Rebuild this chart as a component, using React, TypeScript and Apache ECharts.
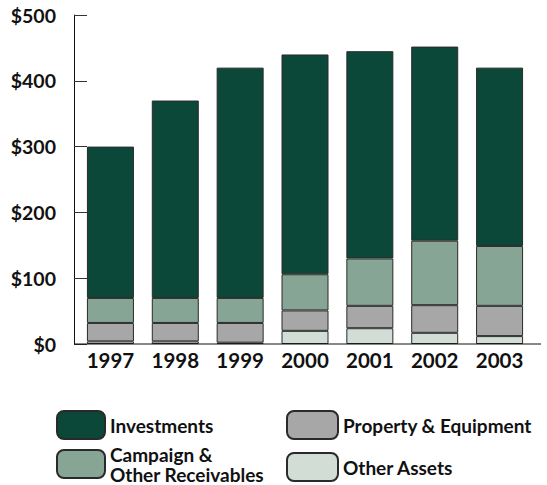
import React, { useEffect, useRef } from "react";
import * as echarts from "echarts";

const years = ["1997", "1998", "1999", "2000", "2001", "2002", "2003"];
const otherAssets = [4, 4, 2, 20, 24, 17, 12];
const propertyEquipment = [28, 28, 30, 31, 34, 42, 46];
const campaignReceivables = [38, 38, 38, 55, 72, 98, 91];
const investments = [230, 300, 350, 334, 315, 295, 271];
const yTicks = [0, 100, 200, 300, 400, 500];

const FONT = "Lato";

export default function App() {
  const ref = useRef<HTMLDivElement>(null);
  useEffect(() => {
    if (!ref.current) return;
    const chart = echarts.init(ref.current, undefined, { renderer: "svg" });
    const border = { borderColor: "#2a2a2a", borderWidth: 1 };
    const mk = (name: string, data: number[], color: string) => ({
      name,
      type: "bar",
      stack: "total",
      data,
      barWidth: 47,
      itemStyle: { color, ...border },
      emphasis: { disabled: true },
    });
    const legendText = {
      color: "#111",
      fontFamily: FONT,
      fontWeight: "bold",
      fontSize: 19,
      lineHeight: 20,
    };
    const leg = (name: string, left: number, top: number, w: number) => ({
      orient: "vertical",
      left,
      top,
      itemWidth: w,
      itemHeight: 28,
      itemGap: 6,
      padding: 0,
      selectedMode: false,
      textStyle: legendText,
      data: [name],
    });
    chart.setOption({
      animation: false,
      backgroundColor: "#ffffff",
      textStyle: { fontFamily: FONT },
      grid: { left: 78, right: 15, top: 15, bottom: 141 },
      xAxis: {
        type: "category",
        data: years,
        axisLine: { show: false },
        axisTick: { show: false },
        axisLabel: {
          color: "#111",
          fontFamily: FONT,
          fontWeight: "bold",
          fontSize: 20.5,
          margin: 5,
        },
      },
      yAxis: {
        type: "value",
        min: yTicks[0],
        max: yTicks[yTicks.length - 1],
        interval: 100,
        offset: 4,
        splitLine: { show: false },
        axisLine: { show: true, lineStyle: { color: "#111", width: 1 } },
        axisTick: { show: true, inside: true, length: 13, lineStyle: { color: "#333" } },
        axisLabel: {
          color: "#111",
          fontFamily: FONT,
          fontWeight: "bold",
          fontSize: 19.5,
          margin: 18,
          formatter: (v: number) => "$" + v,
        },
      },
      legend: [
        leg("Investments", 56, 410, 48),
        leg("Campaign &\nOther Receivables", 56, 444, 48),
        leg("Property & Equipment", 286, 410, 51),
        leg("Other Assets", 286, 452, 51),
      ],
      graphic: [
        {
          type: "line",
          shape: { x1: 74, y1: 344, x2: 541, y2: 344 },
          style: { stroke: "#111", lineWidth: 1 },
          z: 100,
        },
      ],
      series: [
        mk("Other Assets", otherAssets, "#d2ddd6"),
        mk("Property & Equipment", propertyEquipment, "#a7a7a7"),
        mk("Campaign &\nOther Receivables", campaignReceivables, "#87a594"),
        mk("Investments", investments, "#0c4839"),
      ],
    });
    return () => chart.dispose();
  }, []);
  return (
    <div
      ref={ref}
      style={{ position: "absolute", left: 0, top: 0, width: 547, height: 485 }}
    />
  );
}
